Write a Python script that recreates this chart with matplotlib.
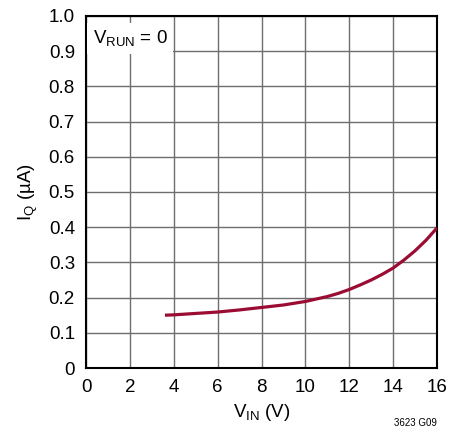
import numpy as np
import matplotlib
matplotlib.use("Agg")
import matplotlib.pyplot as plt

plt.rcParams['font.family'] = ['Liberation Sans', 'DejaVu Sans']

# data
vin = [3.6, 4, 5, 6, 7, 8, 9, 10, 11, 11.5, 12, 12.5, 13, 13.5, 14, 14.5, 15, 15.5, 16]
iq = [0.150, 0.151, 0.155, 0.159, 0.165, 0.172, 0.179, 0.189, 0.203, 0.212, 0.223, 0.236, 0.250, 0.266, 0.284, 0.307, 0.333, 0.363, 0.398]

xticks = [0, 2, 4, 6, 8, 10, 12, 14, 16]
yticks = [0, 0.1, 0.2, 0.3, 0.4, 0.5, 0.6, 0.7, 0.8, 0.9, 1.0]
yticklabels = ['0', '0.1', '0.2', '0.3', '0.4', '0.5', '0.6', '0.7', '0.8', '0.9', '1.0']

fig = plt.figure(figsize=(4.61, 4.36), dpi=100)
ax = fig.add_axes([86/461, 68/436, 351/461, 352/436])

ax.plot(vin, iq, color='#9b0c33', linewidth=2.3, solid_capstyle='butt', zorder=3)

ax.set_xlim(0, 16)
ax.set_ylim(0, 1.0)
ax.set_xticks(xticks)
ax.set_yticks(yticks)
ax.set_yticklabels(yticklabels)
ax.grid(True, color='#6e6e6e', linewidth=1.0)
ax.tick_params(length=0, labelsize=13.5, pad=8)
for s in ax.spines.values():
    s.set_linewidth(1.5)
    s.set_color('black')

ax.set_xlabel('V$_\\mathregular{IN}$ (V)', fontsize=13.5, labelpad=4)
ax.set_ylabel('I$_\\mathregular{Q}$ (µA)', fontsize=13.5, labelpad=6)

ax.text(0.3, 0.965, 'V$_\\mathregular{RUN}$ = 0', fontsize=13.5, va='top', ha='left',
        transform=ax.transData,
        bbox=dict(facecolor='white', edgecolor='none', pad=4), zorder=4)

fig.text(437/461, 8/436, '3623 G09', fontsize=7, ha='right', va='bottom')

fig.savefig('out.png', dpi=100)
